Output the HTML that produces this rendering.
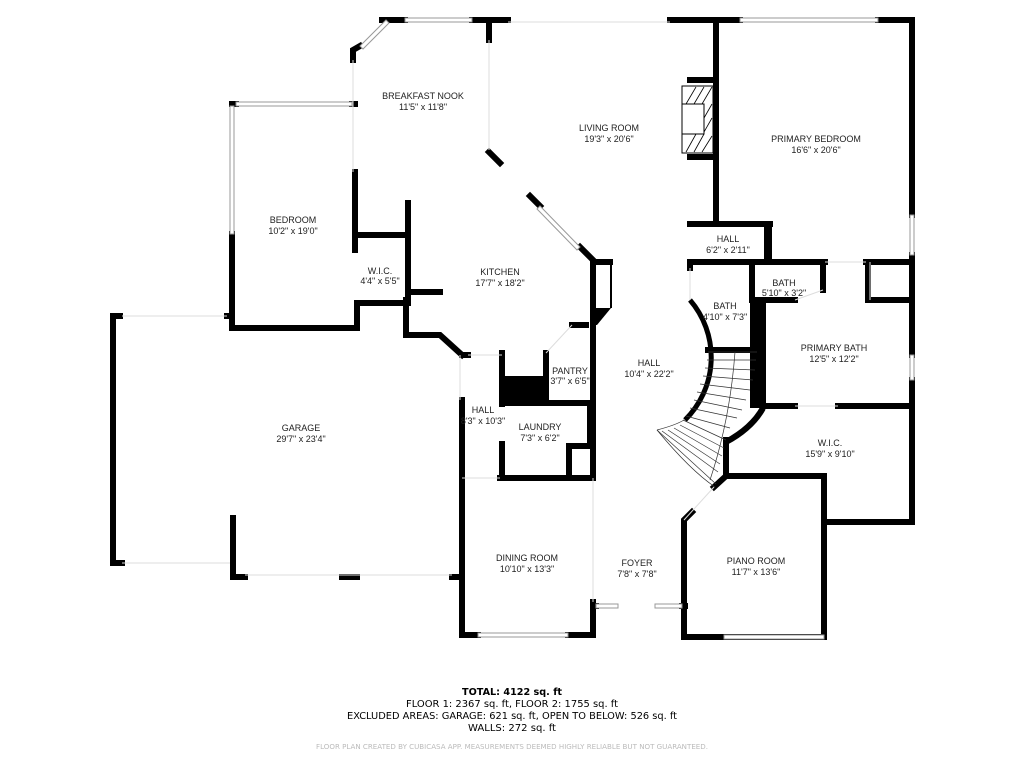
<!DOCTYPE html>
<html><head><meta charset="utf-8"><style>
html,body{margin:0;padding:0;background:#fff;}
svg{display:block}
.w{stroke:#000;fill:none;stroke-linecap:square}
.win{fill:#fff;stroke:#999;stroke-width:1}
.lt{stroke:#ddd;stroke-width:1;fill:none}
.lb{font-family:"Liberation Sans",Arial,sans-serif;font-size:9px;fill:#222;text-anchor:middle}
.ft{font-family:"DejaVu Sans",Verdana,sans-serif;font-size:10px;fill:#000;text-anchor:middle}
</style></head><body>
<svg width="1024" height="768" viewBox="0 0 1024 768">
<g class="w" stroke-width="6">
<!-- breakfast nook -->
<polyline points="353,60 353,50 360,46"/>
<line x1="382" y1="20" x2="405" y2="20"/>
<line x1="472" y1="20" x2="508" y2="20"/>
<line x1="489" y1="20" x2="489" y2="40"/>
<line x1="489" y1="152" x2="500" y2="163"/>
<!-- bedroom -->
<line x1="232" y1="104" x2="236" y2="104"/>
<line x1="352" y1="104" x2="355" y2="104"/>
<line x1="232" y1="234" x2="232" y2="328"/>
<polyline points="232,328 357,328 357,303 408,303"/>
<line x1="355" y1="172" x2="355" y2="250"/>
<line x1="357" y1="235" x2="408" y2="235"/>
<line x1="408" y1="203" x2="408" y2="303"/>
<line x1="410" y1="292" x2="440" y2="292"/>
<polyline points="406,300 406,335 440,335 462,355"/>
<!-- garage -->
<polyline points="120,316 113,316 113,563 122,563"/>
<line x1="227" y1="316" x2="228" y2="316"/>
<polyline points="233,518 233,577 245,577"/>
<line x1="342" y1="577" x2="357" y2="577"/>
<line x1="452" y1="577" x2="462" y2="577"/>
<!-- hall / dining left -->
<line x1="462" y1="400" x2="462" y2="635"/>
<line x1="462" y1="355" x2="468" y2="355"/>
<polyline points="462,635 478,635"/>
<line x1="568" y1="635" x2="593" y2="635"/>
<line x1="593" y1="602" x2="593" y2="635"/>
<line x1="500" y1="478" x2="593" y2="478"/>
<!-- hall/laundry/pantry -->
<line x1="502" y1="353" x2="502" y2="404"/>
<line x1="502" y1="444" x2="502" y2="478"/>
<line x1="502" y1="403" x2="592" y2="403"/>
<polyline points="590,403 590,446 569,446 569,478"/>
<line x1="546" y1="353" x2="546" y2="402"/>
<line x1="572" y1="325" x2="586" y2="325"/>
<line x1="593" y1="262" x2="593" y2="478"/>
<line x1="593" y1="262" x2="610" y2="262"/>
<line x1="530" y1="196" x2="540" y2="206"/>
<line x1="580" y1="247" x2="593" y2="260"/>
<!-- living/primary -->
<line x1="670" y1="20" x2="740" y2="20"/>
<line x1="878" y1="20" x2="912" y2="20"/>
<line x1="716" y1="20" x2="716" y2="224"/>
<line x1="912" y1="20" x2="912" y2="215"/>
<line x1="912" y1="255" x2="912" y2="355"/>
<line x1="912" y1="380" x2="912" y2="522"/>
<line x1="690" y1="80" x2="716" y2="80"/>
<line x1="690" y1="157" x2="716" y2="157"/>
<line x1="690" y1="224" x2="770" y2="224"/>
<line x1="690" y1="262" x2="825" y2="262"/>
<line x1="690" y1="262" x2="690" y2="268"/>
<line x1="823" y1="262" x2="823" y2="290"/>
<line x1="752" y1="262" x2="752" y2="300"/>
<line x1="752" y1="300" x2="795" y2="300"/>
<line x1="866" y1="262" x2="912" y2="262"/>
<line x1="868" y1="262" x2="868" y2="300"/>
<line x1="868" y1="300" x2="912" y2="300"/>
<line x1="765" y1="406" x2="795" y2="406"/>
<line x1="838" y1="406" x2="912" y2="406"/>
<line x1="708" y1="350" x2="757" y2="350"/>
<polyline points="726,440 726,476 824,476 824,637"/>
<line x1="824" y1="522" x2="912" y2="522"/>
<line x1="726" y1="476" x2="714" y2="487"/>
<polyline points="692,512 684,520 684,637"/>
<line x1="684" y1="637" x2="824" y2="637"/>
<line x1="593" y1="606" x2="596" y2="606"/>
<line x1="682" y1="606" x2="685" y2="606"/>
</g>
<!-- thick / filled blocks -->
<rect x="764" y="224" width="8" height="38" fill="#000"/>
<polygon points="750,300 766,300 766,408 750,408" fill="#000"/>
<rect x="502" y="376" width="45" height="28" fill="#000"/>
<polygon points="593,308 611,308 597,325 593,325" fill="#000"/>
<line x1="611" y1="262" x2="611" y2="308" stroke="#000" stroke-width="2"/>
<!-- fireplace -->
<rect x="682" y="86" width="31" height="67" fill="#fff" stroke="#000" stroke-width="1"/>
<rect x="682" y="104" width="22" height="30" fill="#fff" stroke="#000" stroke-width="1"/>
<g stroke="#000" stroke-width="0.8">
<line x1="686" y1="104" x2="696" y2="87"/><line x1="694" y1="104" x2="704" y2="87"/><line x1="702" y1="104" x2="712" y2="87"/>
<line x1="704" y1="118" x2="712" y2="104"/><line x1="704" y1="132" x2="712" y2="118"/>
<line x1="686" y1="152" x2="696" y2="134"/><line x1="694" y1="152" x2="704" y2="134"/><line x1="702" y1="152" x2="712" y2="136"/>
</g>
<!-- curved walls -->
<path d="M690,300 A88,88 0 0 1 685,420" stroke="#000" stroke-width="5" fill="none"/>
<path d="M763,408 Q752,428 726,442" stroke="#000" stroke-width="6" fill="none"/>
<!-- stairs -->
<g stroke="#333" stroke-width="0.7" fill="none">
<path d="M708,352 L757,352"/>
<path d="M707,360 L756,360"/><path d="M705,368 L755,370"/><path d="M703,376 L753,380"/>
<path d="M700,384 L750,390"/><path d="M697,392 L746,400"/><path d="M694,400 L742,410"/>
<path d="M690,408 L737,418"/><path d="M686,416 L730,428"/>
<path d="M683,420 L726,440"/><path d="M680,425 L724,448"/><path d="M674,428 L722,456"/>
<path d="M668,430 L720,464"/><path d="M662,431 L718,472"/>
<path d="M657,430 L716,484"/>
<path d="M657,430 Q676,425 684,420"/>
<path d="M657,430 Q690,470 715,487"/>
<path d="M735,352 Q730,420 710,480"/>
</g>
<!-- windows -->
<g class="win">
<rect x="405" y="18" width="67" height="4"/>
<rect x="740" y="18" width="138" height="4"/>
<rect x="236" y="102" width="116" height="4"/>
<rect x="230" y="106" width="4" height="128"/>
<rect x="910" y="215" width="4" height="40"/>
<rect x="910" y="355" width="4" height="25"/>
<rect x="478" y="633" width="90" height="4"/>
<rect x="596" y="604" width="22" height="4"/>
<rect x="655" y="604" width="27" height="4"/>
<rect x="724" y="635" width="100" height="4"/>
</g>
<polygon points="360,46 386,20 389,23 363,49" fill="#fff" stroke="#999"/>
<polygon points="540,206 580,247 577,250 537,209" fill="#fff" stroke="#999"/>
<g class="lt">
<line x1="508" y1="22" x2="670" y2="22"/>
<line x1="489" y1="40" x2="489" y2="150"/>
<line x1="353" y1="60" x2="353" y2="172"/>
<line x1="122" y1="316" x2="227" y2="316"/>
<line x1="122" y1="563" x2="230" y2="563"/>
<line x1="245" y1="575" x2="452" y2="575"/>
<line x1="468" y1="355" x2="502" y2="355"/>
<line x1="460" y1="355" x2="460" y2="400"/>
<line x1="546" y1="353" x2="572" y2="325"/>
<line x1="593" y1="478" x2="593" y2="602"/>
<line x1="684" y1="520" x2="714" y2="487"/>
<line x1="690" y1="268" x2="690" y2="300"/>
<line x1="795" y1="300" x2="823" y2="290"/>
<line x1="825" y1="262" x2="866" y2="262"/>
<line x1="795" y1="406" x2="838" y2="406"/>
<line x1="870" y1="262" x2="870" y2="300"/>
<line x1="462" y1="478" x2="500" y2="478"/>
</g>
<!-- labels -->
<g class="lb">
<text x="423" y="99">BREAKFAST NOOK</text><text x="423" y="110">11'5" x 11'8"</text>
<text x="609" y="131">LIVING ROOM</text><text x="609" y="142">19'3" x 20'6"</text>
<text x="816" y="142">PRIMARY BEDROOM</text><text x="816" y="153">16'6" x 20'6"</text>
<text x="293" y="223">BEDROOM</text><text x="293" y="234">10'2" x 19'0"</text>
<text x="728" y="242">HALL</text><text x="728" y="253">6'2" x 2'11"</text>
<text x="380" y="274">W.I.C.</text><text x="380" y="284">4'4" x 5'5"</text>
<text x="500" y="275">KITCHEN</text><text x="500" y="286">17'7" x 18'2"</text>
<text x="784" y="286">BATH</text><text x="784" y="296">5'10" x 3'2"</text>
<text x="725" y="309">BATH</text><text x="725" y="320">4'10" x 7'3"</text>
<text x="834" y="351">PRIMARY BATH</text><text x="834" y="362">12'5" x 12'2"</text>
<text x="649" y="366">HALL</text><text x="649" y="377">10'4" x 22'2"</text>
<text x="570" y="374">PANTRY</text><text x="570" y="384">3'7" x 6'5"</text>
<text x="483" y="413">HALL</text><text x="483" y="424">8'3" x 10'3"</text>
<text x="301" y="431">GARAGE</text><text x="301" y="442">29'7" x 23'4"</text>
<text x="540" y="430">LAUNDRY</text><text x="540" y="441">7'3" x 6'2"</text>
<text x="830" y="446">W.I.C.</text><text x="830" y="457">15'9" x 9'10"</text>
<text x="527" y="561">DINING ROOM</text><text x="527" y="572">10'10" x 13'3"</text>
<text x="756" y="564">PIANO ROOM</text><text x="756" y="575">11'7" x 13'6"</text>
<text x="637" y="566">FOYER</text><text x="637" y="577">7'8" x 7'8"</text>
</g>
<g class="ft">
<text x="512" y="695" font-weight="bold" textLength="100" lengthAdjust="spacingAndGlyphs">TOTAL: 4122 sq. ft</text>
<text x="512" y="707" textLength="212" lengthAdjust="spacingAndGlyphs">FLOOR 1: 2367 sq. ft, FLOOR 2: 1755 sq. ft</text>
<text x="512" y="719" textLength="330" lengthAdjust="spacingAndGlyphs">EXCLUDED AREAS: GARAGE: 621 sq. ft, OPEN TO BELOW: 526 sq. ft</text>
<text x="512" y="731" textLength="88" lengthAdjust="spacingAndGlyphs">WALLS: 272 sq. ft</text>
<text x="512" y="749" font-size="7" fill="#bbb" textLength="392" lengthAdjust="spacingAndGlyphs">FLOOR PLAN CREATED BY CUBICASA APP. MEASUREMENTS DEEMED HIGHLY RELIABLE BUT NOT GUARANTEED.</text>
</g>
</svg>
</body></html>
